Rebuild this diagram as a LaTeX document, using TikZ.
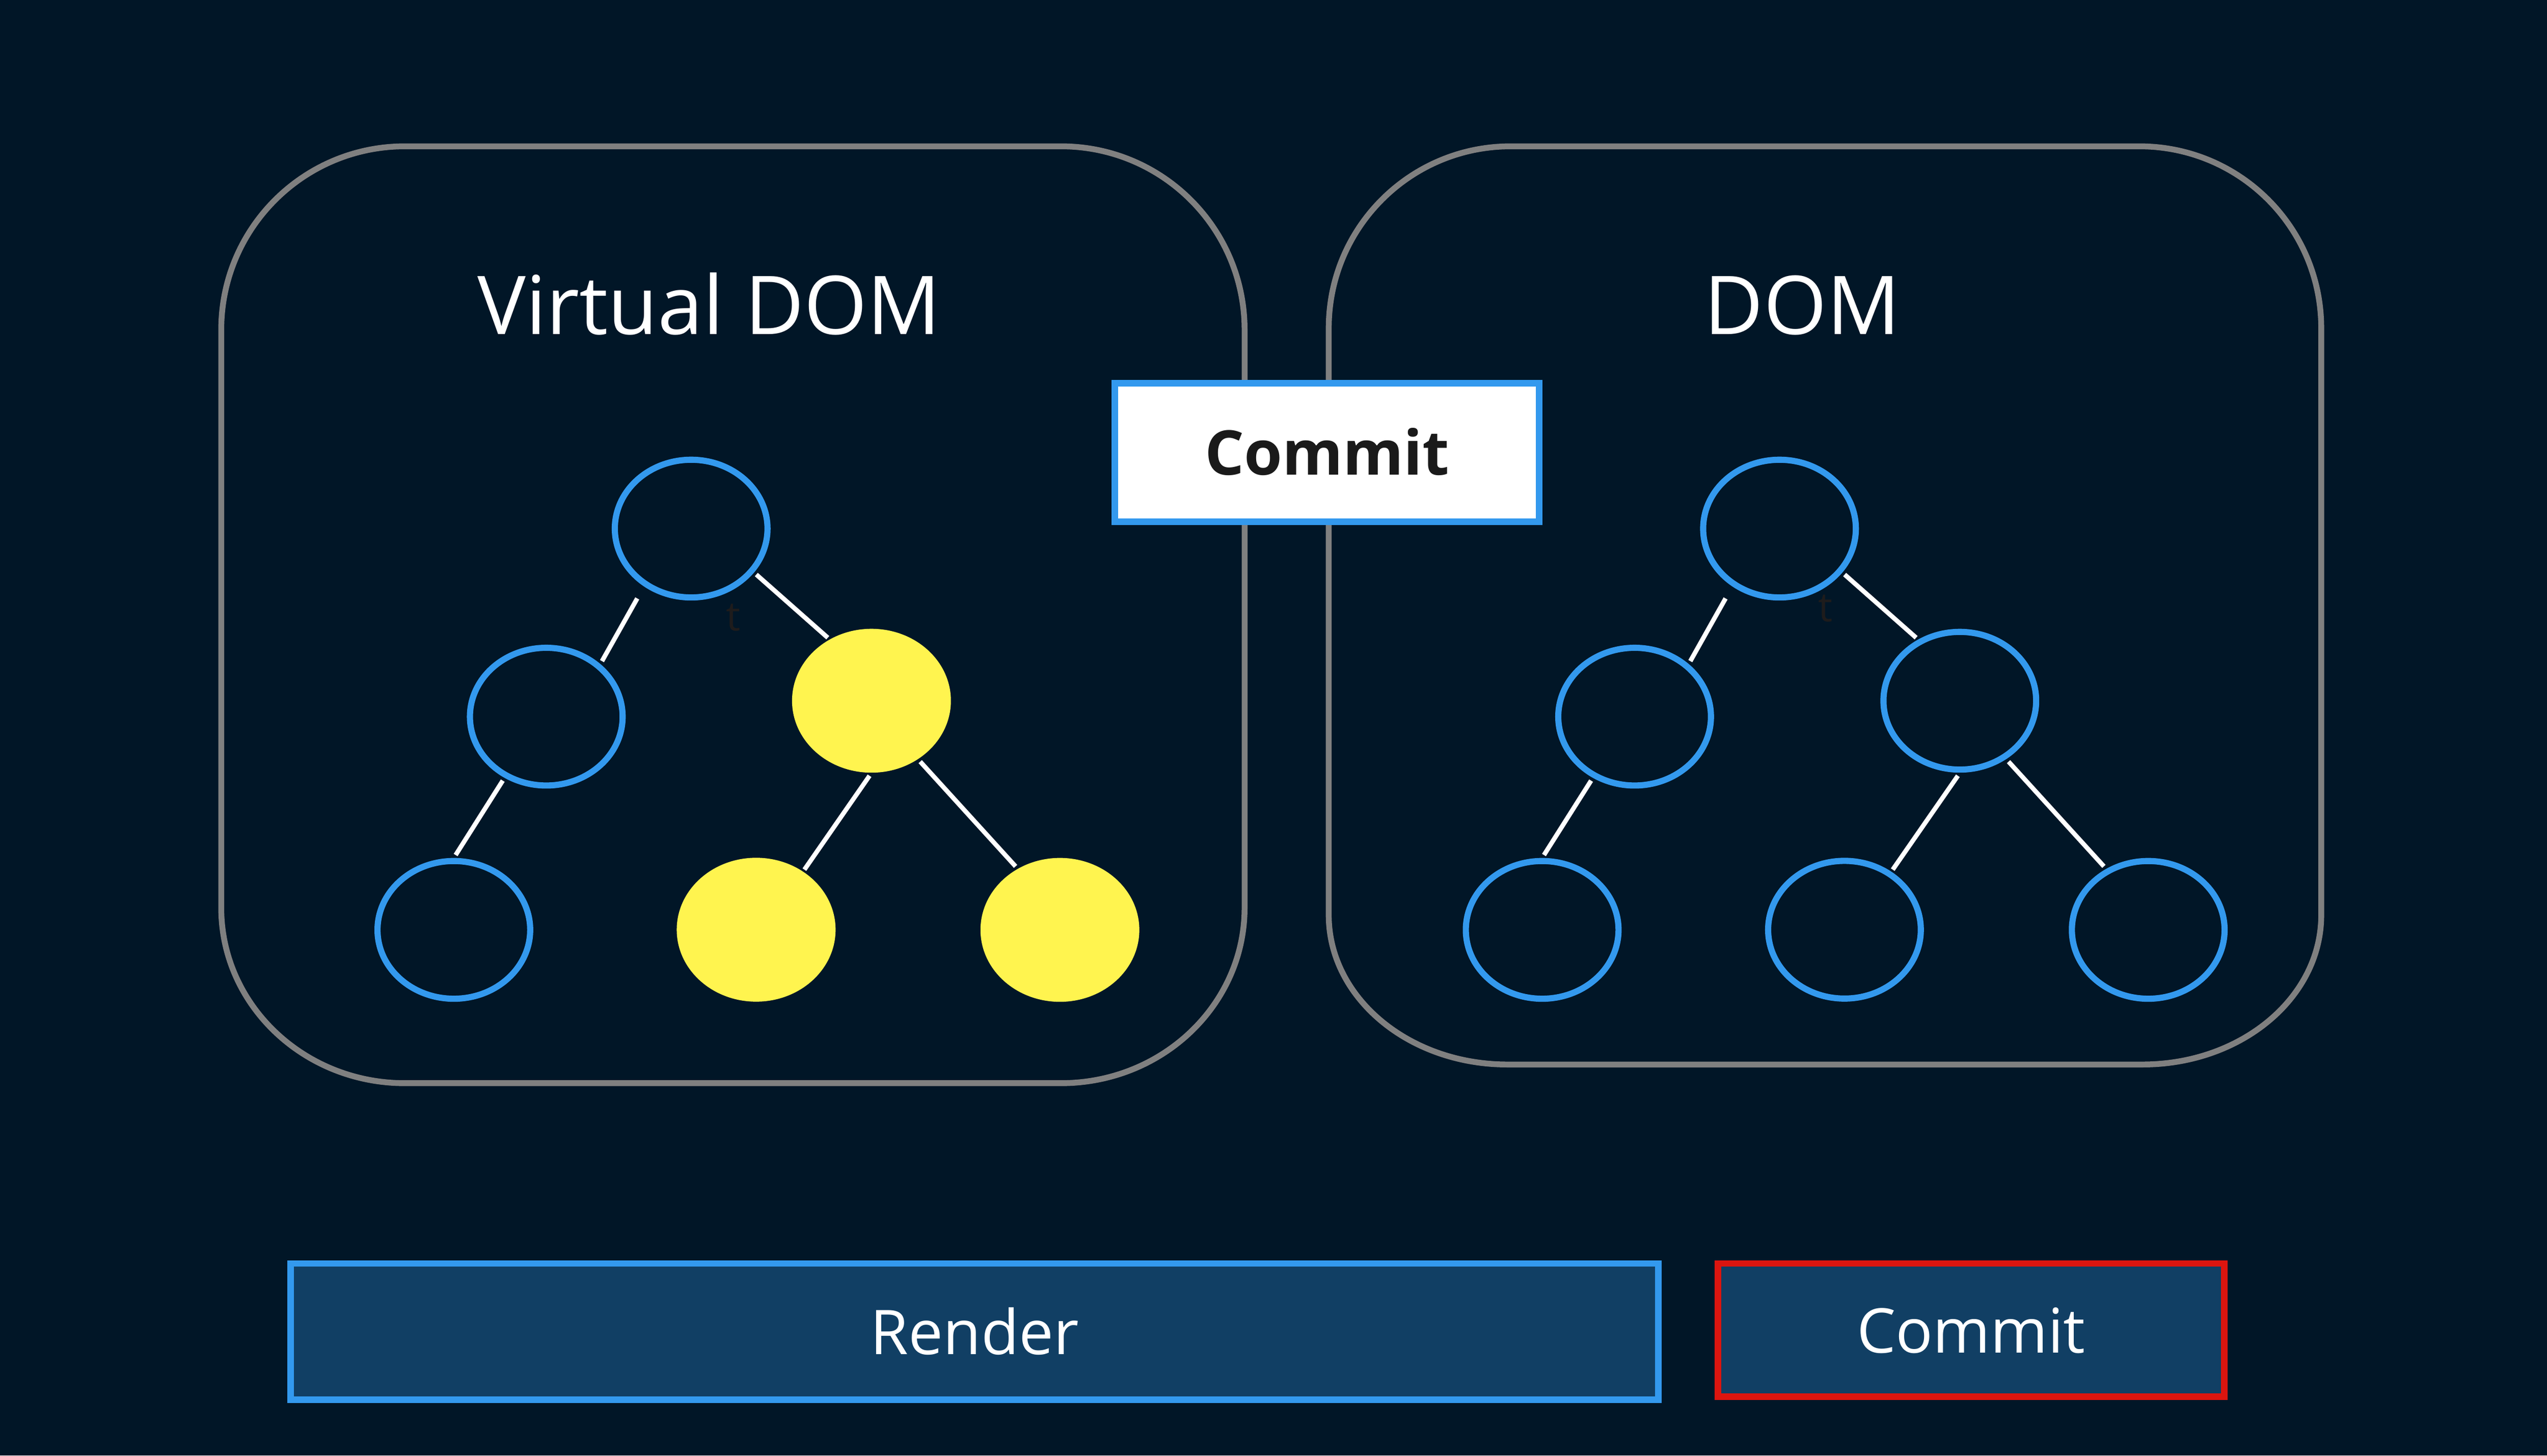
\documentclass[tikz,border=0pt]{standalone}
\usepackage{fontspec}
\setmainfont{Open Sans}
\usetikzlibrary{shapes.geometric}
\definecolor{bg}{HTML}{011627}
\definecolor{panelgray}{HTML}{808080}
\definecolor{nodeblue}{HTML}{3399EE}
\definecolor{barfill}{HTML}{113F64}
\definecolor{barred}{HTML}{DC150F}
\definecolor{hot}{HTML}{FFF44F}
\definecolor{ink}{HTML}{1A1A1A}
\definecolor{ghost}{HTML}{1E1C1C}
\begin{document}
\begin{tikzpicture}[x=1pt,y=-1pt,
  treenode/.style={ellipse, draw=nodeblue, line width=3.8pt, minimum width=94pt, minimum height=84.8pt, inner sep=0pt, outer sep=0pt},
  hotnode/.style={treenode, draw=hot, fill=hot},
  link/.style={draw=white, line width=2.8pt},
  panel/.style={draw=panelgray, line width=3.6pt},
  heading/.style={text=white, font=\fontsize{50}{60}\selectfont, anchor=base, inner sep=0pt},
  ghosttext/.style={text=ghost, font=\fontsize{25}{30}\selectfont, anchor=base, inner sep=0pt},
  bar/.style={rectangle, fill=barfill, line width=4pt, text=white, font=\fontsize{38}{46}\selectfont, inner sep=0pt, text depth=0pt}
]
\useasboundingbox (0,0) rectangle (1568,896.3);
\fill[bg] (0,0) rectangle (1568,896.3);

% panels
\draw[panel] (136.2,203.1) .. controls (136.2,140.7) and (186.8,90.1) .. (249.2,90.1)
  -- (653.2,90.1) .. controls (715.6,90.1) and (766.2,140.7) .. (766.2,203.1)
  -- (766.2,559) .. controls (766.2,618.6) and (715.6,667) .. (653.2,667)
  -- (249.2,667) .. controls (186.8,667) and (136.2,618.6) .. (136.2,559) -- cycle;
\draw[panel] (818,202.1) .. controls (818,140.2) and (868.1,90.1) .. (930,90.1)
  -- (1317,90.1) .. controls (1378.9,90.1) and (1429,140.2) .. (1429,202.1)
  -- (1429,563.5) .. controls (1429,614.3) and (1379.8,655.5) .. (1319,655.5)
  -- (928,655.5) .. controls (867.2,655.5) and (818,614.3) .. (818,563.5) -- cycle;

% titles
\node[heading] (vtitle) at (436.5,206) {Virtual DOM};
\node[heading] (dtitle) at (1109.5,206) {DOM};

% commit box on top
\node[rectangle, draw=nodeblue, fill=white, line width=4pt, minimum width=261.4pt, minimum height=85.3pt,
  inner sep=0pt, text=ink, font=\bfseries\fontsize{38}{46}\selectfont, text height=27.3pt, text depth=0pt]
  (commitbox) at (816.9,278.65) {Commit};

% left tree
\node[treenode] (a0) at (425.5,325.5) {};
\node[treenode] (a1) at (336.3,441.3) {};
\node[hotnode]  (a2) at (536.5,431.5) {};
\node[treenode] (a3) at (279.4,572.6) {};
\node[hotnode]  (a4) at (465.5,572.5) {};
\node[hotnode]  (a5) at (652.5,572.6) {};
\draw[link] ([shift={(-33.2,43)}]a0.center) -- ([shift={(34.3,-34.2)}]a1.center);
\draw[link] ([shift={(40.1,28.3)}]a0.center) -- ([shift={(-26.9,-38.8)}]a2.center);
\draw[link] ([shift={(-26.8,39.4)}]a1.center) -- ([shift={(1.1,-46.1)}]a3.center);
\draw[link] ([shift={(-1.2,46.2)}]a2.center) -- ([shift={(29.7,-37)}]a4.center);
\draw[link] ([shift={(30,37.5)}]a2.center) -- ([shift={(-27.3,-39.1)}]a5.center);
\node[ghosttext] (at) at (451.4,388.5) {t};

% right tree
\node[treenode] (b0) at (1095.5,325.5) {};
\node[treenode] (b1) at (1006.3,441.3) {};
\node[treenode] (b2) at (1206.5,431.5) {};
\node[treenode] (b3) at (949.4,572.6) {};
\node[treenode] (b4) at (1135.5,572.5) {};
\node[treenode] (b5) at (1322.5,572.6) {};
\draw[link] ([shift={(-33.2,43)}]b0.center) -- ([shift={(34.3,-34.2)}]b1.center);
\draw[link] ([shift={(40.1,28.3)}]b0.center) -- ([shift={(-26.9,-38.8)}]b2.center);
\draw[link] ([shift={(-26.8,39.4)}]b1.center) -- ([shift={(1.1,-46.1)}]b3.center);
\draw[link] ([shift={(-1.2,46.2)}]b2.center) -- ([shift={(29.7,-37)}]b4.center);
\draw[link] ([shift={(30,37.5)}]b2.center) -- ([shift={(-27.3,-39.1)}]b5.center);
\node[ghosttext] (bt) at (1123.9,382.7) {t};

% bottom bars
\node[bar, draw=nodeblue, minimum width=842pt, minimum height=84pt, text height=27.8pt] (render) at (600,820) {Render};
\node[bar, draw=barred, minimum width=311.9pt, minimum height=82pt, text height=28pt] (commitbar) at (1213.45,819) {Commit};
\end{tikzpicture}
\end{document}
